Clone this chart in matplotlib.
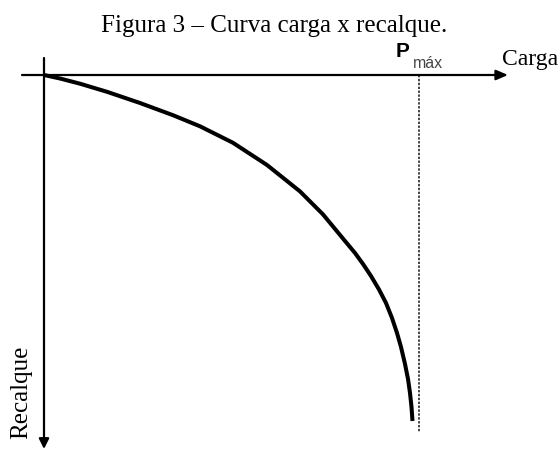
import matplotlib
matplotlib.use("Agg")
import matplotlib.pyplot as plt

# Data (arbitrary units: load along x, settlement downward)
carga = [0, 16, 36, 63, 96, 129, 156, 189, 223, 256, 279, 301, 311, 319,
         327, 335, 342, 348, 353, 357, 361, 364, 366, 367.5, 368.5]
recalque = [0, 3.5, 8.7, 16.8, 28, 40.2, 51.3, 67.8, 90, 116.4, 139.4, 166,
            178, 189, 201, 214.5, 228, 243, 258, 272, 289, 304, 318, 332, 346]
p_max = 375
p_max_depth = 357

title = "Figura 3 \u2013 Curva carga x recalque."
xlabel = "Carga"
ylabel = "Recalque"

fig = plt.figure(figsize=(5.58, 4.5), dpi=100)
ax = fig.add_axes([0, 0, 1, 1])
ax.set_xlim(-44, 514)
ax.set_ylim(375, -75)
ax.axis("off")

serif = ["Liberation Serif", "DejaVu Serif"]
sans = ["Liberation Sans", "DejaVu Sans"]

# axes arrows
ax.annotate("", xy=(464, 0), xytext=(-22, 0),
            arrowprops=dict(arrowstyle="-|>,head_length=0.7,head_width=0.3",
                            color="black", lw=1.6, shrinkA=0, shrinkB=0))
ax.annotate("", xy=(0, 374), xytext=(0, -17),
            arrowprops=dict(arrowstyle="-|>,head_length=0.6,head_width=0.3",
                            color="black", lw=1.6, shrinkA=0, shrinkB=0))

# curve
ax.plot(carga, recalque, color="black", lw=2.9, solid_capstyle="butt",
        solid_joinstyle="round")

# Pmax dashed line
ax.plot([p_max, p_max], [0, p_max_depth], color="#444444", lw=1.4,
        linestyle=(0, (1.2, 0.8)))

# texts
ax.text(230.5, -43, title, family=serif, fontsize=18, ha="center",
        va="baseline")
ax.text(458, -10, xlabel, family=serif, fontsize=17, ha="left",
        va="baseline")
ax.text(-23, 317, ylabel, family=serif, fontsize=18, rotation=90,
        ha="center", va="center")
ax.text(352, -18, "P", family=sans, fontsize=15, fontweight="bold",
        ha="left", va="baseline")
ax.text(369, -7, "m\u00e1x", family=sans, fontsize=11.5, color="#444444",
        ha="left", va="baseline")

fig.savefig("out.png", dpi=100)
